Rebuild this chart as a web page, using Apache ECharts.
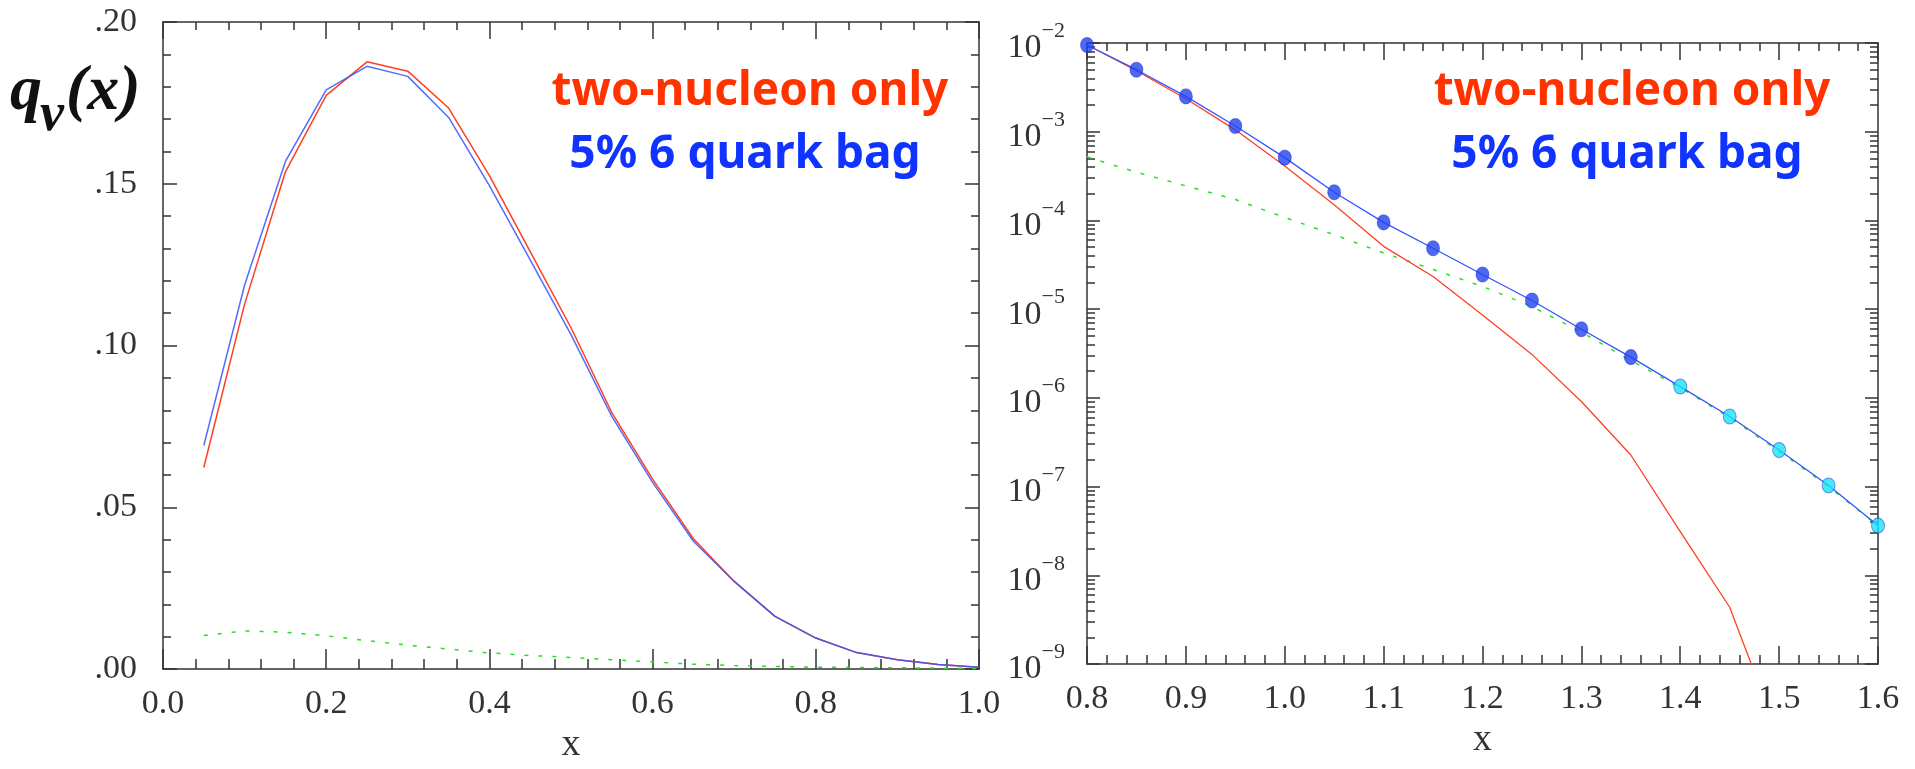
<!DOCTYPE html>
<html><head><meta charset="utf-8">
<script src="https://cdn.jsdelivr.net/npm/echarts@6/dist/echarts.min.js"></script>
<style>html,body{margin:0;padding:0;background:#fff;}#c{width:1915px;height:769px;}</style>
</head><body><div id="c"></div>
<script>
// ---------- data: left panel (linear) ----------
const leftX = [0.05,0.10,0.15,0.20,0.25,0.30,0.35,0.40,0.45,0.50,0.55,0.60,0.65,0.70,0.75,0.80,0.85,0.90,0.95,1.00];
const leftTwoNucleon = [0.0623,0.1128,0.1537,0.1773,0.1877,0.1848,0.1734,0.1525,0.1290,0.1055,0.0793,0.0587,0.0403,0.0271,0.0163,0.0096,0.0051,0.0029,0.0014,0.0006];
const leftSixQuark  = [0.0691,0.1187,0.1569,0.1790,0.1863,0.1832,0.1705,0.1494,0.1265,0.1034,0.0781,0.0577,0.0395,0.0271,0.0163,0.0096,0.0051,0.0029,0.0014,0.0006];
const leftBagOnly   = [0.0104,0.0118,0.0114,0.0103,0.0088,0.0074,0.0062,0.0050,0.0042,0.0036,0.0029,0.0022,0.0015,0.0011,0.0008,0.0006,0.0005,0.0004,0.0003,0.0002];

// ---------- data: right panel (log) ----------
const rightX = [0.80,0.85,0.90,0.95,1.00,1.05,1.10,1.15,1.20,1.25,1.30,1.35,1.40,1.45,1.50,1.55,1.60];
const rightSixQuark = [9.5e-3,5.0e-3,2.5e-3,1.16e-3,5.1e-4,2.08e-4,9.5e-5,4.86e-5,2.46e-5,1.25e-5,5.94e-6,2.88e-6,1.34e-6,6.17e-7,2.58e-7,1.03e-7,3.63e-8];
const rightTwoNucleonX = [0.80,0.85,0.90,0.95,1.00,1.05,1.10,1.15,1.20,1.25,1.30,1.35,1.40,1.45,1.50];
const rightTwoNucleon = [9.5e-3,4.87e-3,2.35e-3,1.05e-3,4.1e-4,1.5e-4,5.1e-5,2.33e-5,8.6e-6,3.09e-6,9.1e-7,2.27e-7,3.1e-8,4.36e-9,1.5e-10];
const rightBagOnly = [5.2e-4,3.5e-4,2.45e-4,1.72e-4,1.08e-4,6.9e-5,4.3e-5,2.8e-5,1.8e-5,1.07e-5,5.5e-6,2.64e-6,1.3e-6,6.0e-7,2.5e-7,1.0e-7,3.6e-8];

// ---------- tick labels ----------
const leftXTickLabels = ['0.0','0.2','0.4','0.6','0.8','1.0'];
const leftYTickLabels = ['.00','.05','.10','.15','.20'];
const rightXTickLabels = ['0.8','0.9','1.0','1.1','1.2','1.3','1.4','1.5','1.6'];
const rightYExponents = [-9,-8,-7,-6,-5,-4,-3,-2];

const legendLines = ['two-nucleon only', '5% 6 quark bag'];

// ---------- styles ----------
const AX = {color:'#333', width:1.5};
const SERIF = '"Liberation Serif","DejaVu Serif",serif';
const lab = {fontFamily:SERIF, fontSize:34, color:'#333'};
const RED = '#ff4020', BLUE = '#3355ff', GREEN = '#22e022';

function xAx(grid, min, max, interval, pos, major, minor, labels, extra) {
  return Object.assign({
    gridIndex:grid, type:'value', min:min, max:max, interval:interval, position:pos,
    axisLine:{show:true, onZero:false, lineStyle:AX},
    axisTick:{show:true, inside:true, length:major, lineStyle:AX},
    minorTick:{show:true, splitNumber:5, length:minor, lineStyle:AX},
    splitLine:{show:false}, minorSplitLine:{show:false},
    axisLabel: labels ? Object.assign({show:true, margin:18}, lab, {formatter:labels}) : {show:false}
  }, extra || {});
}

const pairs = (xs, ys) => xs.map((x,i)=>[x, ys[i]]);

const option = {
  animation:false,
  backgroundColor:'#fff',
  grid:[
    {left:163, top:22, width:816, height:653},
    {left:1087, top:43, width:791, height:621}
  ],
  xAxis:[
    xAx(0, 0, 1, 0.2, 'bottom', 20, 10, v => leftXTickLabels[Math.round(v/0.2)],
        {name:'x', nameLocation:'middle', nameGap:52, nameTextStyle:{fontFamily:SERIF, fontSize:38, color:'#333'}}),
    xAx(0, 0, 1, 0.2, 'top', 17, 8, null),
    xAx(1, 0.8, 1.6, 0.1, 'bottom', 18, 9, v => rightXTickLabels[Math.round((v-0.8)/0.1)],
        {name:'x', nameLocation:'middle', nameGap:52, nameTextStyle:{fontFamily:SERIF, fontSize:38, color:'#333'}}),
    xAx(1, 0.8, 1.6, 0.1, 'top', 17, 8, null)
  ],
  yAxis:[
    {gridIndex:0, type:'value', min:0, max:0.2, interval:0.05, position:'left',
     axisLine:{show:true, onZero:false, lineStyle:AX},
     axisTick:{show:true, inside:true, length:14, lineStyle:AX},
     minorTick:{show:true, splitNumber:5, length:8, lineStyle:AX},
     splitLine:{show:false}, minorSplitLine:{show:false},
     axisLabel:Object.assign({margin:26}, lab, {formatter: v => leftYTickLabels[Math.round(v/0.05)]})},
    {gridIndex:0, type:'value', min:0, max:0.2, interval:0.05, position:'right',
     axisLine:{show:true, onZero:false, lineStyle:AX},
     axisTick:{show:true, inside:true, length:14, lineStyle:AX},
     minorTick:{show:true, splitNumber:5, length:8, lineStyle:AX},
     splitLine:{show:false}, minorSplitLine:{show:false}, axisLabel:{show:false}},
    {gridIndex:1, type:'log', logBase:10, min:1e-9, max:1e-2, position:'left',
     axisLine:{show:true, onZero:false, lineStyle:AX},
     axisTick:{show:true, inside:true, length:13, lineStyle:AX},
     minorTick:{show:true, splitNumber:9, length:8, lineStyle:AX},
     splitLine:{show:false}, minorSplitLine:{show:false},
     axisLabel:{margin:22, formatter: v => {
        const e = Math.round(Math.log10(v));
        const idx = rightYExponents.indexOf(e);
        const ex = rightYExponents[idx];
        return '{b|10}{e|\u2212' + Math.abs(ex) + '}';
      },
      rich:{
        b:{fontFamily:SERIF, fontSize:34, color:'#333', verticalAlign:'bottom', padding:[11,0,0,0]},
        e:{fontFamily:SERIF, fontSize:22, color:'#333', verticalAlign:'top'}
      }}},
    {gridIndex:1, type:'log', logBase:10, min:1e-9, max:1e-2, position:'right',
     axisLine:{show:true, onZero:false, lineStyle:AX},
     axisTick:{show:true, inside:true, length:13, lineStyle:AX},
     minorTick:{show:true, splitNumber:9, length:8, lineStyle:AX},
     splitLine:{show:false}, minorSplitLine:{show:false}, axisLabel:{show:false}}
  ],
  series:[
    {type:'line', xAxisIndex:0, yAxisIndex:0, data:pairs(leftX,leftBagOnly), showSymbol:false,
     lineStyle:{color:GREEN, width:1.5, type:[4,10]}, z:2},
    {type:'line', xAxisIndex:0, yAxisIndex:0, data:pairs(leftX,leftTwoNucleon), showSymbol:false,
     lineStyle:{color:RED, width:1.5}, z:3},
    {type:'line', xAxisIndex:0, yAxisIndex:0, data:pairs(leftX,leftSixQuark), showSymbol:false,
     lineStyle:{color:BLUE, width:1.5, opacity:0.85}, z:4},

    {type:'line', xAxisIndex:2, yAxisIndex:2, data:pairs(rightX,rightBagOnly), showSymbol:false,
     lineStyle:{color:GREEN, width:1.5, type:[4,10]}, z:2},
    {type:'line', xAxisIndex:2, yAxisIndex:2, data:pairs(rightTwoNucleonX,rightTwoNucleon), showSymbol:false,
     lineStyle:{color:RED, width:1.3}, z:3},
    {type:'line', xAxisIndex:2, yAxisIndex:2, data:pairs(rightX,rightSixQuark), showSymbol:false,
     lineStyle:{color:BLUE, width:1.3}, z:4},
    {type:'scatter', xAxisIndex:2, yAxisIndex:2, data:pairs(rightX,rightSixQuark), symbol:'circle', symbolSize:[13,15],
     itemStyle:{color: p => p.value[0] >= 1.395 ? '#18e4f6' : '#2244ee', borderColor:'rgba(20,40,200,0.6)', borderWidth:1}, z:5}
  ],
  graphic:[
    {type:'text', left:10, top:60, style:{text:'q', font:'italic bold 64px "Liberation Serif", serif', fill:'#111'}},
    {type:'text', left:40, top:89, style:{text:'v', font:'italic bold 54px "Liberation Serif", serif', fill:'#111'}},
    {type:'text', left:66, top:60, style:{text:'(x)', font:'italic bold 64px "Liberation Serif", serif', fill:'#111'}},

    {type:'text', x:750, y:92, style:{text:legendLines[0], font:'bold 46px "Comic Sans MS","Noto Sans",sans-serif', fill:'#ff3300', align:'center', verticalAlign:'middle'}},
    {type:'text', x:745, y:155, style:{text:legendLines[1], font:'bold 46px "Comic Sans MS","Noto Sans",sans-serif', fill:'#1133ff', align:'center', verticalAlign:'middle'}},
    {type:'text', x:1632, y:92, style:{text:legendLines[0], font:'bold 46px "Comic Sans MS","Noto Sans",sans-serif', fill:'#ff3300', align:'center', verticalAlign:'middle'}},
    {type:'text', x:1627, y:155, style:{text:legendLines[1], font:'bold 46px "Comic Sans MS","Noto Sans",sans-serif', fill:'#1133ff', align:'center', verticalAlign:'middle'}}
  ]
};

const chart = echarts.init(document.getElementById('c'), null, {renderer:'canvas'});
chart.setOption(option);
</script></body></html>
